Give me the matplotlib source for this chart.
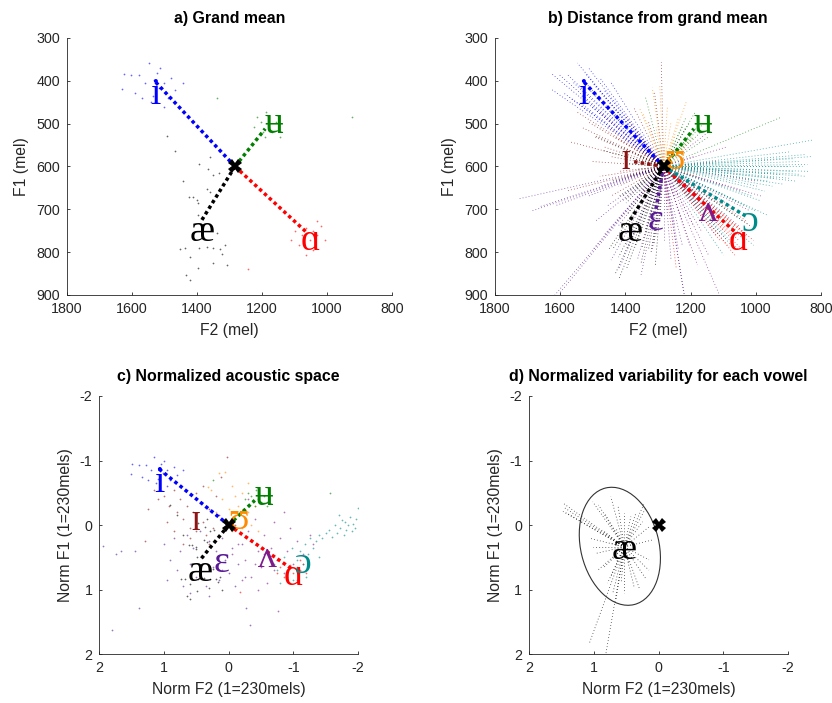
import matplotlib
matplotlib.use('Agg')
import matplotlib.pyplot as plt
from matplotlib.patches import Ellipse

# grand mean (mel) and normalization unit
GM_F2 = 1283
GM_F1 = 600
UNIT = 230

vowels = ['i', 'ɪ', 'ɛ', 'æ', 'ʌ', 'ɑ', 'ɔ', 'ʊ', 'ʉ']
mean_f2 = [1531, 1380, 1309, 1385, 1162, 1058, 1028, 1255, 1190]
mean_f1 = [400, 588, 710, 725, 685, 757, 717, 588, 512]

# tokens, normalized units (F - grand mean) / 230
i_nf2 = [1.49, 1.39, 1.28, 1.15, 1.51, 1.34, 1.10, 1.02, 0.95, 1.05, 1.20, 0.90, 1.12, 0.85, 1.00, 0.80, 1.25, 0.70, 0.95, 1.08]
i_nf1 = [-0.94, -0.93, -0.93, -1.05, -0.79, -0.75, -0.72, -0.80, -0.85, -0.95, -0.85, -0.70, -0.65, -0.90, -1.00, -0.78, -0.70, -0.85, -0.60, -0.88]

ih_nf2 = [1.15, 1.10, 1.00, 0.92, 0.85, 0.80, 0.75, 0.70, 0.65, 0.60, 0.55, 0.50, 0.45, 0.40, 0.35, 0.30, 0.25, 0.20, 0.15, 0.60,
          0.85, 0.95, 1.25, 1.30, 0.40, 0.03, 0.12, 0.70, 0.50, 0.30]
ih_nf1 = [-0.55, -0.40, -0.45, -0.30, -0.55, -0.20, -0.40, -0.10, -0.30, 0.05, -0.20, 0.10, -0.35, -0.05, 0.15, -0.25, 0.05, -0.45, -0.15, 0.20,
          0.10, -0.05, -0.25, 0.25, -0.60, -1.06, -0.75, 0.30, -0.50, 0.30]

eh_nf2 = [1.94, 1.75, 1.66, 1.45, 1.39, 1.00, 0.90, 0.85, 0.80, 0.75, 0.70, 0.65, 0.60, 0.55, 0.50, 0.45, 0.40, 0.35, 0.30, 0.25,
          0.20, 0.15, 0.10, 0.05, 0.00, -0.05, -0.10, -0.15, -0.20, -0.27, -0.33, 0.30, 0.60, -0.25, 0.95, 1.81]
eh_nf1 = [0.33, 0.45, 0.41, 0.40, 1.29, 0.30, 0.55, 0.20, 0.70, 0.40, 0.95, 0.15, 0.60, 0.35, 0.80, 0.10, 0.50, 0.95, 0.25, 0.65,
          0.40, 0.85, 0.20, 0.55, 0.75, 0.35, 0.95, 0.60, 0.30, 1.29, 1.55, 1.10, 1.05, 0.80, 0.85, 1.63]

ae_nf2 = [0.91, 0.80, 0.70, 0.48, 0.33, 0.36, 0.29, 0.22, 0.61, 0.56, 0.51, 0.50, 0.38, 0.33, 0.49, 0.24, 0.73, 0.67, 0.48, 0.38,
          0.29, 0.20, 0.60, 0.13, 0.17, 0.11, 0.30, 0.49, 0.65, 0.60]
ae_nf1 = [-0.31, -0.16, 0.15, -0.03, -0.10, 0.03, 0.09, 0.07, 0.31, 0.31, 0.34, 0.37, 0.23, 0.26, 0.49, 0.68, 0.84, 0.83, 0.83, 0.82,
          0.83, 0.84, 0.92, 0.80, 0.89, 1.00, 0.98, 1.03, 1.10, 1.15]

uh_nf2 = [-0.10, -0.15, -0.20, -0.25, -0.30, -0.35, -0.40, -0.45, -0.50, -0.55, -0.60, -0.65, -0.70, -0.75, -0.80, -0.85, -0.90, -0.95,
          -1.00, -1.05, -1.15, -1.25, -1.30, -0.20, -0.45, -0.60, -0.30, -0.76, 0.10, -0.05, -0.35, -0.55, -0.70, -0.40, -0.85]
uh_nf1 = [0.00, 0.30, -0.20, 0.55, 0.10, 0.80, -0.10, 0.40, 0.65, 0.15, 0.90, 0.35, -0.05, 0.55, 0.20, 0.75, 0.40, 0.05,
          0.60, 0.25, 0.45, 0.15, 0.30, 0.85, 1.00, -0.35, -0.40, 1.33, 0.70, 0.45, 0.25, 0.45, 0.70, 0.60, -0.20]

aa_nf2 = [-1.05, -1.10, -0.90, -0.95, -1.00, -1.15, -0.85, -1.05, -0.80, -1.20, -0.17, -0.95, -1.10, -0.75]
aa_nf1 = [0.65, 0.70, 0.70, 0.62, 0.75, 0.60, 0.80, 0.85, 0.65, 0.75, 1.04, 0.90, 0.55, 0.75]

oh_nf2 = [-2.00, -1.97, -1.95, -1.92, -1.90, -1.88, -1.85, -1.82, -1.80, -1.78, -1.75, -1.72, -1.70, -1.68, -1.65, -1.60, -1.55, -1.50,
          -1.45, -1.40, -1.35, -1.30, -1.25, -1.22, -1.18, -1.15, -1.10, -1.08, -1.05, -1.00, -0.98, -0.95, -0.90, -0.85, -0.80, -0.75,
          -0.70, -1.20, -0.60, -1.40]
oh_nf1 = [-0.27, -0.10, 0.05, -0.02, 0.10, -0.12, 0.00, 0.08, -0.05, 0.15, -0.08, 0.05, -0.15, 0.12, 0.00, 0.18, 0.08, 0.12,
          0.20, 0.15, 0.25, 0.35, 0.20, 0.45, 0.30, 0.60, 0.40, 0.75, 0.55, 0.85, 0.35, 0.65, 0.80, 0.50, 0.90, 0.70,
          0.60, 0.80, 0.45, 0.50]

uu_nf2 = [0.32, 0.28, 0.15, 0.05, -0.05, 0.10, -0.15, -0.20, 0.00, -0.10, -0.25, -0.30, -0.35, -0.20, -0.05, -0.40, 0.20, -0.10, -0.45, -0.30]
uu_nf1 = [-0.59, -0.55, -0.80, -0.82, -0.60, -0.40, -0.30, -0.50, -0.25, -0.15, -0.10, -0.20, 0.00, 0.05, 0.10, -0.30, -0.20, -0.45, 0.10, -0.65]

u_nf2 = [0.24, -1.57, -0.35, -0.45, -0.40, -0.50, -0.30, -0.55, -0.42, -0.38, -0.60, -0.25]
u_nf1 = [-0.70, -0.50, -0.45, -0.40, -0.30, -0.35, -0.50, -0.45, -0.55, -0.35, -0.30, -0.40]

# panel d: ae tokens after per-vowel normalization
aed_mean = (0.53, 0.34)
aed_nf2 = [1.48, 1.46, 1.48, 1.43, 1.02, 0.93, 0.84, 0.74, 0.63, 0.53, 0.43, 0.35, 0.22, 0.20, 0.25, 0.15, 0.09, 0.15, 0.15, 0.20,
           0.30, 0.38, 0.53, 0.66, 0.71, 0.79, 1.07, 0.82, 1.05, 1.02, 0.97, 0.94, 0.84, 0.74, 0.58, 0.46, 0.66, 0.35, 0.87, 0.66, 0.76]
aed_nf1 = [-0.34, -0.27, -0.21, -0.19, -0.36, -0.31, -0.19, -0.44, -0.31, -0.19, -0.13, -0.19, -0.34, -0.26, -0.05, 0.03, 0.23, 0.54, 0.70, 0.83,
           0.98, 0.96, 1.06, 1.16, 1.06, 0.90, 1.83, 2.02, 0.21, 0.34, 0.44, 0.70, 0.65, 0.80, 0.90, 0.59, 0.59, 0.28, 0.08, 0.05, 0.28]
ell_center = (0.60, 0.33)
ell_width = 1.86
ell_height = 1.21
ell_angle = 103.7

tokens = {
    'i': (i_nf2, i_nf1), 'ɪ': (ih_nf2, ih_nf1), 'ɛ': (eh_nf2, eh_nf1),
    'æ': (ae_nf2, ae_nf1), 'ʌ': (uh_nf2, uh_nf1), 'ɑ': (aa_nf2, aa_nf1),
    'ɔ': (oh_nf2, oh_nf1), 'ʊ': (uu_nf2, uu_nf1), 'ʉ': (u_nf2, u_nf1),
}

colors = {
    'i': '#0000ff', 'ɪ': '#8c1414', 'ɛ': '#5a1a96', 'æ': '#000000', 'ʌ': '#7f1a8c',
    'ɑ': '#ff0000', 'ɔ': '#008b8b', 'ʊ': '#ff8c00', 'ʉ': '#007f00',
}
# label offsets in points from the mean
label_off = {
    'i': (0.7, -10), 'ɪ': (-4.3, 0.8), 'ɛ': (0, -5), 'æ': (0, -8.5), 'ʌ': (3.6, -6.5),
    'ɑ': (1.4, -5), 'ɔ': (2.2, -4), 'ʊ': (1.4, 1.4), 'ʉ': (6.5, 3.6),
}

GRAY = (0.15, 0.15, 0.15)
IPA_FONT = ['Liberation Serif', 'DejaVu Serif']
THICK = dict(lw=2.5, ls=(0, (1, 0.9)), zorder=3)
THIN = dict(lw=0.55, ls=(0, (1, 3)), zorder=1, alpha=0.9)

plt.rcParams['font.family'] = ['Liberation Sans', 'DejaVu Sans']
plt.rcParams['axes.unicode_minus'] = False


def to_mel(v):
    nx, ny = tokens[v]
    return [GM_F2 + UNIT * x for x in nx], [GM_F1 + UNIT * y for y in ny]


def style(ax, lim, ticks, xlabel, ylabel, title):
    ax.set_xlim(lim[0], lim[1])
    ax.set_ylim(lim[3], lim[2])
    ax.set_xticks(ticks[0])
    ax.set_yticks(ticks[1])
    for s in ['top', 'right']:
        ax.spines[s].set_visible(False)
    for s in ['left', 'bottom']:
        ax.spines[s].set_color(GRAY)
        ax.spines[s].set_linewidth(0.6)
    ax.tick_params(direction='in', length=2.5, width=0.6, color=GRAY, labelcolor=GRAY, labelsize=10.3, pad=5)
    ax.set_xlabel(xlabel, fontsize=11.3, color=GRAY, labelpad=5)
    ax.set_ylabel(ylabel, fontsize=11.3, color=GRAY, labelpad=5)
    ax.set_title(title, fontsize=11.4, fontweight='bold', pad=11)


def label(ax, v, x, y, off=None):
    if off is None:
        off = label_off[v]
    ax.annotate(v, xy=(x, y), xytext=off, textcoords='offset points', ha='center', va='center',
                fontsize=27, color=colors[v], family=IPA_FONT, zorder=5)


def grand_mean(ax, x, y):
    ax.plot(x, y, 'X', ms=10, color='k', mew=0, zorder=6)


if __name__ == "__main__":
    fig = plt.figure(figsize=(8.32, 7.03), dpi=100)
    ax_a = fig.add_axes([0.0805, 0.5804, 0.3906, 0.3656])
    ax_b = fig.add_axes([0.5950, 0.5804, 0.3918, 0.3656])
    ax_c = fig.add_axes([0.1194, 0.0697, 0.3109, 0.3670])
    ax_d = fig.add_axes([0.6362, 0.0697, 0.3109, 0.3670])

    mel_ticks = ([1800, 1600, 1400, 1200, 1000, 800], [300, 400, 500, 600, 700, 800, 900])
    norm_ticks = ([2, 1, 0, -1, -2], [-2, -1, 0, 1, 2])

    # a) grand mean
    for v in ['i', 'ʉ', 'æ', 'ɑ']:
        k = vowels.index(v)
        f2, f1 = to_mel(v)
        ax_a.plot(f2, f1, '.', ms=2.5, mew=0, color=colors[v], alpha=0.6, zorder=2)
        ax_a.plot([GM_F2, mean_f2[k]], [GM_F1, mean_f1[k]], color=colors[v], **THICK)
        label(ax_a, v, mean_f2[k], mean_f1[k])
    grand_mean(ax_a, GM_F2, GM_F1)
    style(ax_a, (1800, 800, 300, 900), mel_ticks, 'F2 (mel)', 'F1 (mel)', 'a) Grand mean')

    # b) distance from grand mean
    for v in vowels:
        f2, f1 = to_mel(v)
        for x, y in zip(f2, f1):
            ax_b.plot([GM_F2, x], [GM_F1, y], color=colors[v], **THIN)
    for k, v in enumerate(vowels):
        ax_b.plot([GM_F2, mean_f2[k]], [GM_F1, mean_f1[k]], color=colors[v], **THICK)
        label(ax_b, v, mean_f2[k], mean_f1[k])
    grand_mean(ax_b, GM_F2, GM_F1)
    style(ax_b, (1800, 800, 300, 900), mel_ticks, 'F2 (mel)', 'F1 (mel)', 'b) Distance from grand mean')

    # c) normalized acoustic space
    for k, v in enumerate(vowels):
        nx, ny = tokens[v]
        ax_c.plot(nx, ny, '.', ms=2.5, mew=0, color=colors[v], alpha=0.6, zorder=2)
        mx = (mean_f2[k] - GM_F2) / UNIT
        my = (mean_f1[k] - GM_F1) / UNIT
        if v in ['i', 'ʉ', 'æ', 'ɑ']:
            ax_c.plot([0, mx], [0, my], color=colors[v], **THICK)
        label(ax_c, v, mx, my)
    grand_mean(ax_c, 0, 0)
    style(ax_c, (2, -2, -2, 2), norm_ticks, 'Norm F2 (1=230mels)', 'Norm F1 (1=230mels)',
          'c) Normalized acoustic space')

    # d) normalized variability for one vowel
    for x, y in zip(aed_nf2, aed_nf1):
        ax_d.plot([aed_mean[0], x], [aed_mean[1], y], color='k', **THIN)
    ax_d.add_patch(Ellipse(ell_center, ell_width, ell_height, angle=ell_angle,
                           fill=False, lw=0.8, ec=(0.2, 0.2, 0.2), zorder=2))
    label(ax_d, 'æ', aed_mean[0], aed_mean[1], off=(0, -1.7))
    grand_mean(ax_d, 0, 0)
    style(ax_d, (2, -2, -2, 2), norm_ticks, 'Norm F2 (1=230mels)', 'Norm F1 (1=230mels)',
          'd) Normalized variability for each vowel')

    fig.savefig('out.png', dpi=100)
